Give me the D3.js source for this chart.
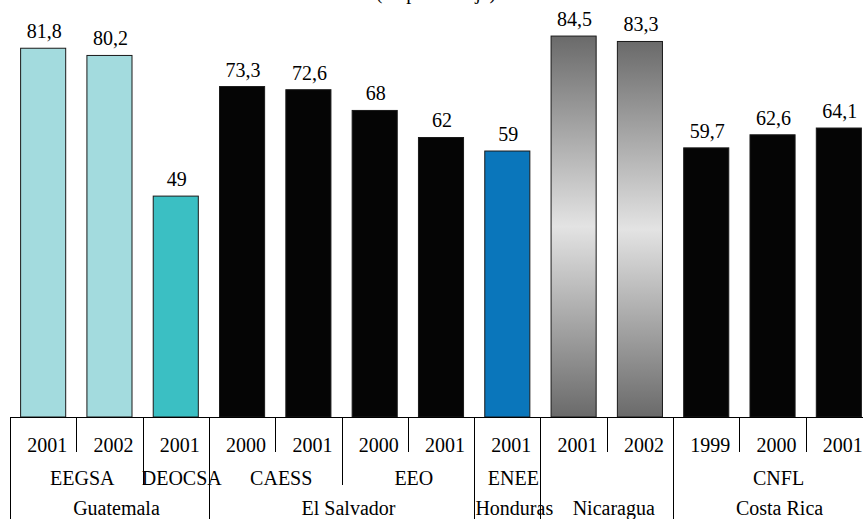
<!DOCTYPE html>
<html>
<head>
<meta charset="utf-8">
<script src="https://cdn.jsdelivr.net/npm/d3@7"></script>
<style>
  html, body { margin: 0; padding: 0; background: #fff; }
  svg text { font-family: "Liberation Serif", "DejaVu Serif", "Times New Roman", Times, serif; }
</style>
</head>
<body>
<div id="chart"></div>
<script>
// 数据
const years = ['2001', '2002', '2001', '2000', '2001', '2000', '2001', '2001', '2001', '2002', '1999', '2000', '2001'];
const companies = ['EEGSA', 'EEGSA', 'DEOCSA', 'CAESS', 'CAESS', 'EEO', 'EEO', 'ENEE', '', '', 'CNFL', 'CNFL', 'CNFL'];
const countries = ['Guatemala', 'Guatemala', 'Guatemala', 'El Salvador', 'El Salvador', 'El Salvador', 'El Salvador',
  'Honduras', 'Nicaragua', 'Nicaragua', 'Costa Rica', 'Costa Rica', 'Costa Rica'];
const values = [81.8, 80.2, 49, 73.3, 72.6, 68, 62, 59, 84.5, 83.3, 59.7, 62.6, 64.1];
const title = '(en porcentaje)';

// 每家公司的填充
const fills = {
  EEGSA: '#a3dbde',
  DEOCSA: '#3bbfc3',
  CAESS: '#050505',
  EEO: '#050505',
  ENEE: '#0a76bb',
  '': 'url(#nicaGrad)',
  CNFL: '#050505'
};

const width = 863, height = 519;
const baseY = 417;
const serif = '"Liberation Serif", "DejaVu Serif", serif';
const fmt = v => String(v).replace('.', ',');

const svg = d3.select('#chart').append('svg')
  .attr('width', width)
  .attr('height', height)
  .attr('viewBox', `0 0 ${width} ${height}`)
  .style('display', 'block');

// 尼加拉瓜柱子的灰色渐变
const grad = svg.append('defs').append('linearGradient')
  .attr('id', 'nicaGrad')
  .attr('x1', 0).attr('y1', 0).attr('x2', 0).attr('y2', 1);
grad.append('stop').attr('offset', '0%').attr('stop-color', '#6a6a6a');
grad.append('stop').attr('offset', '50%').attr('stop-color', '#e3e3e3');
grad.append('stop').attr('offset', '100%').attr('stop-color', '#6a6a6a');

const idx = d3.range(values.length);

const x = d3.scaleBand()
  .domain(idx)
  .range([10, 872])
  .paddingInner(0.32)
  .paddingOuter(0.16);

const y = d3.scaleLinear()
  .domain([0, 92.5])
  .range([baseY, 0]);

const step = x.step();
const edge = i => x(i) - step * 0.16; // 类别左边界

const labels = svg.append('g')
  .attr('font-family', serif)
  .attr('font-size', 20)
  .attr('text-anchor', 'middle')
  .attr('fill', '#000');

// 标题（上方被裁掉）
labels.append('text')
  .attr('x', 436)
  .attr('y', -1)
  .text(title);

// 柱子
svg.append('g').selectAll('rect')
  .data(idx)
  .join('rect')
  .attr('x', i => x(i))
  .attr('y', i => y(values[i]))
  .attr('width', x.bandwidth())
  .attr('height', i => baseY - y(values[i]))
  .attr('fill', i => fills[companies[i]])
  .attr('stroke', '#1a1a1a')
  .attr('stroke-width', 1);

// 数值标签
labels.append('g').selectAll('text')
  .data(idx)
  .join('text')
  .attr('x', i => x(i) + x.bandwidth() / 2 + 1)
  .attr('y', i => y(values[i]) - 10)
  .text(i => fmt(values[i]));

// 坐标轴与分组线
const axis = svg.append('g').attr('stroke', '#000').attr('stroke-width', 1);
axis.append('line')
  .attr('x1', 10).attr('x2', width)
  .attr('y1', baseY + 0.5).attr('y2', baseY + 0.5);

idx.forEach(i => {
  let y2 = 452;
  if (i === 0 || countries[i] !== countries[i - 1]) y2 = height;
  else if (companies[i] !== companies[i - 1]) y2 = 485;
  const xx = Math.round(edge(i)) + 0.5;
  axis.append('line')
    .attr('x1', xx).attr('x2', xx)
    .attr('y1', baseY).attr('y2', y2);
});

// 连续分组
function runs(arr) {
  const out = [];
  arr.forEach((v, i) => {
    if (i > 0 && arr[i - 1] === v) out[out.length - 1].end = i;
    else out.push({ label: v, start: i, end: i });
  });
  return out;
}
const groupCenter = r => (edge(r.start) + edge(r.end) + step) / 2;

// 年份
labels.append('g').selectAll('text')
  .data(idx)
  .join('text')
  .attr('x', i => edge(i) + step / 2 + 4)
  .attr('y', 452)
  .text(i => years[i]);

// 公司
labels.append('g').selectAll('text')
  .data(runs(companies).filter(r => r.label))
  .join('text')
  .attr('x', r => groupCenter(r) + 6)
  .attr('y', 485)
  .text(r => r.label);

// 国家
labels.append('g').selectAll('text')
  .data(runs(countries))
  .join('text')
  .attr('x', r => groupCenter(r) + 7)
  .attr('y', 515)
  .text(r => r.label);
</script>
</body>
</html>
